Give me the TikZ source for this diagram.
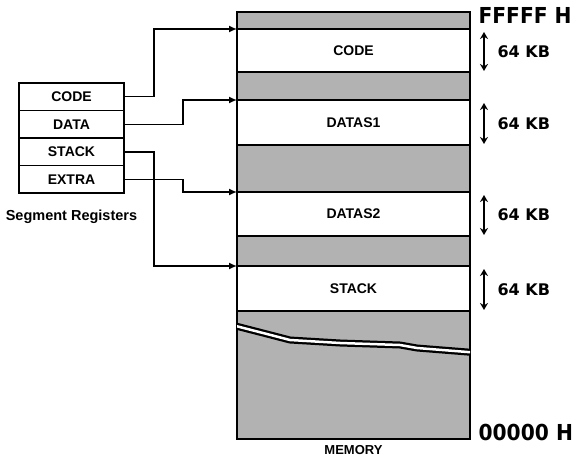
\documentclass[tikz,border=0pt]{standalone}
\usepackage{fontspec}
\setmainfont{Liberation Sans}
\newfontfamily\addrfont{DejaVu Sans}[FakeStretch=0.92]
\newfontfamily\kbfont{DejaVu Sans}
\usetikzlibrary{positioning,arrows.meta}

\newcommand{\memLeft}{237}
\newcommand{\memTop}{12}
\newcommand{\memWidth}{233}
\newcommand{\memHeight}{427}
\newcommand{\regLeft}{19}
\newcommand{\regTop}{83}
\newcommand{\nearBendX}{30}
\newcommand{\farBendX}{59}
\newcommand{\spanOffsetX}{14}

\tikzset{
  membox/.style={draw, fill=black!30, line width=1.5pt, minimum width=\memWidth pt, minimum height=\memHeight pt, inner sep=0pt, outer sep=0pt, anchor=north west},
  segband/.style={draw, fill=white, line width=1.5pt, minimum width=\memWidth pt, inner sep=0pt, outer sep=0pt, anchor=north west, font=\bfseries\fontsize{14}{16}\selectfont},
  regbox/.style={draw, fill=white, line width=1.5pt, minimum width=105pt, minimum height=27.5pt, inner sep=0pt, outer sep=0pt, font=\bfseries\fontsize{14}{16}\selectfont},
  link/.style={line width=1.5pt, -{Latex[length=8pt,width=7pt]}},
  span/.style={line width=1.4pt, {Stealth[length=7pt,width=8pt]}-{Stealth[length=7pt,width=8pt]}},
  addr/.style={anchor=west, font=\addrfont\bfseries\fontsize{22}{26}\selectfont},
  kb/.style={anchor=west, font=\kbfont\bfseries\fontsize{16}{18}\selectfont},
  caption/.style={font=\bfseries\fontsize{14.5}{16}\selectfont}
}

\begin{document}
\begin{tikzpicture}[x=1pt,y=-1pt]
    \useasboundingbox (0,0) rectangle (576,460);

    % Memory column
    \node[membox] (memory) at (\memLeft,\memTop) {};
    \begin{scope}
        \clip (memory.north west) rectangle (memory.south east);
        \draw[line width=7pt, line join=round] (228,324) -- (263,333) -- (290,340) -- (340,343) -- (400,345) -- (417,348) -- (480,353);
        \draw[line width=2.5pt, white, line join=round] (228,324) -- (263,333) -- (290,340) -- (340,343) -- (400,345) -- (417,348) -- (480,353);
    \end{scope}

    % Segments
    \node[segband, minimum height=43pt] (codeSeg) at (\memLeft,29) {CODE};
    \node[segband, minimum height=45pt] (dataSegA) at (\memLeft,100) {DATAS1};
    \node[segband, minimum height=44pt] (dataSegB) at (\memLeft,192) {DATAS2};
    \node[segband, minimum height=45pt] (stackSeg) at (\memLeft,266) {STACK};

    % Addresses
    \node[addr] (topAddr) at ([xshift=5pt,yshift=-3pt]memory.north east) {FFFFF H};
    \node[addr] (bottomAddr) at ([xshift=5pt,yshift=7pt]memory.south east) {00000 H};
    \node[caption, font=\bfseries\fontsize{13}{15}\selectfont, below=3pt of memory] (memLabel) {MEMORY};

    % Segment sizes
    \foreach \seg in {codeSeg,dataSegA,dataSegB,stackSeg}{
        \draw[span] ([xshift=\spanOffsetX pt,yshift=-3pt]\seg.north east) -- ([xshift=\spanOffsetX pt,yshift=1pt]\seg.south east);
        \node[kb] (\seg Size) at ([xshift=24pt,yshift=-1pt]\seg.east) {64 KB};
    }

    % Segment registers
    \node[regbox, anchor=north west] (regCode) at (\regLeft,\regTop) {CODE};
    \node[regbox, below=0pt of regCode] (regData) {DATA};
    \node[regbox, below=0pt of regData] (regStack) {STACK};
    \node[regbox, below=0pt of regStack] (regExtra) {EXTRA};
    \node[caption, below=13pt of regExtra] (regLabel) {Segment Registers};

    % Draw register links
    \draw[link] (regCode.east) -- ++(\nearBendX,0) |- (codeSeg.north west);
    \draw[link] (regData.east) -- ++(\farBendX,0) |- (dataSegA.north west);
    \draw[link] (regExtra.east) -- ++(\farBendX,0) |- (dataSegB.north west);
    \draw[link] (regStack.east) -- ++(\nearBendX,0) |- (stackSeg.north west);
\end{tikzpicture}
\end{document}
